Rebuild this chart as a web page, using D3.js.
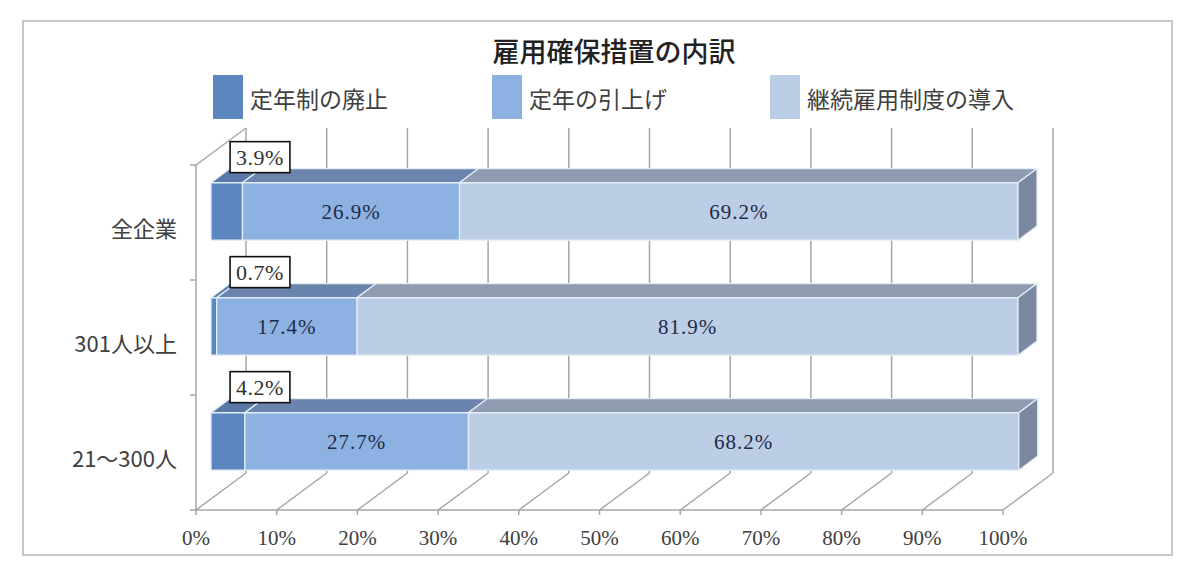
<!DOCTYPE html>
<html>
<head>
<meta charset="utf-8">
<script src="https://cdn.jsdelivr.net/npm/d3@7"></script>
<style>
  body { margin: 0; background: #fff; }
  svg { display: block; }
  .jp { font-family: "Noto Sans CJK JP", sans-serif; fill: #404040; }
  .num { font-family: "Liberation Serif", "DejaVu Serif", serif; }
</style>
</head>
<body>
<svg id="chart" width="1200" height="588"></svg>
<script>
// data
var title = "雇用確保措置の内訳";
var categories = ["全企業", "301人以上", "21～300人"];
var seriesNames = ["定年制の廃止", "定年の引上げ", "継続雇用制度の導入"];
var abolish = [3.9, 0.7, 4.2];
var raise = [26.9, 17.4, 27.7];
var continued = [69.2, 81.9, 68.2];
var ticks = [0, 10, 20, 30, 40, 50, 60, 70, 80, 90, 100];

var front = ["#5b86c0", "#8db2e2", "#bccde6"];
var top_ = ["#5a78a8", "#6a84ad", "#8e9bb1"];
var sideColor = "#7a889f";

var svg = d3.select("#chart");

// outer frame
svg.append("rect")
  .attr("x", 23).attr("y", 21).attr("width", 1149).attr("height", 534)
  .attr("fill", "#fff").attr("stroke", "#c8c8c8").attr("stroke-width", 2);

var x = d3.scaleLinear().domain([0, 100]).range([196, 1003]);
var y = d3.scaleBand().domain(categories).range([165, 510])
  .paddingInner(0.5).paddingOuter(0.25);
var yOuter = d3.scaleBand().domain(categories).range([165, 510]);

// depth of the box and of the bars
var DX = 50, DY = -37;
var z0 = 0.3, z1 = 0.68;
var yTop = 165, yBot = 510;
var grid = "#a6a6a6";

var walls = svg.append("g").attr("stroke", grid).attr("stroke-width", 1.5).attr("fill", "none");

// back wall gridlines
walls.selectAll("line.back").data(ticks).enter().append("line")
  .attr("x1", function(d) { return x(d) + DX; })
  .attr("x2", function(d) { return x(d) + DX; })
  .attr("y1", yTop + DY).attr("y2", yBot + DY);

// left wall
walls.append("line").attr("x1", x(0)).attr("x2", x(0)).attr("y1", yTop).attr("y2", yBot);
walls.append("line").attr("x1", x(0)).attr("x2", x(0) + DX).attr("y1", yTop).attr("y2", yTop + DY);
var catTicks = [yTop].concat(categories.map(function(c) { return yOuter(c) + yOuter.bandwidth(); }));
walls.selectAll("line.ctick").data(catTicks).enter().append("line")
  .attr("x1", x(0) - 6).attr("x2", x(0))
  .attr("y1", function(d) { return d; }).attr("y2", function(d) { return d; });

// floor
walls.append("line").attr("x1", x(0)).attr("x2", x(100)).attr("y1", yBot).attr("y2", yBot);
walls.selectAll("line.floor").data(ticks).enter().append("line")
  .attr("x1", function(d) { return x(d); })
  .attr("x2", function(d) { return x(d) + DX; })
  .attr("y1", yBot).attr("y2", yBot + DY);
walls.selectAll("line.xtick").data(ticks).enter().append("line")
  .attr("x1", function(d) { return x(d); })
  .attr("x2", function(d) { return x(d); })
  .attr("y1", yBot).attr("y2", yBot + 5);

// x tick labels
svg.selectAll("text.xlab").data(ticks).enter().append("text")
  .attr("class", "num")
  .attr("x", function(d) { return x(d); })
  .attr("y", 545)
  .attr("text-anchor", "middle")
  .attr("font-size", 21)
  .attr("fill", "#404040")
  .text(function(d) { return d + "%"; });

// category labels
svg.selectAll("text.cat").data(categories).enter().append("text")
  .attr("class", "jp")
  .attr("x", 177)
  .attr("y", function(d) { return yOuter(d) + yOuter.bandwidth() / 2 + 4; })
  .attr("text-anchor", "end")
  .attr("dominant-baseline", "central")
  .attr("font-size", 22)
  .text(function(d) { return d; });

// bars
var bx = DX * z0, by = DY * z0;
var dxb = DX * (z1 - z0), dyb = DY * (z1 - z0);
var bars = categories.map(function(c, i) {
  var vals = [abolish[i], raise[i], continued[i]];
  var acc = 0;
  return vals.map(function(v, k) {
    var s = { cat: c, k: k, v: v, a: acc, b: acc + v };
    acc += v;
    return s;
  });
});

var barG = svg.append("g");
bars.forEach(function(segs, i) {
  var g = barG.append("g");
  var t = y(categories[i]) + by, h = y.bandwidth();
  segs.forEach(function(s) {
    var x0 = x(s.a) + bx, x1 = x(s.b) + bx;
    g.append("rect")
      .attr("x", x0).attr("y", t).attr("width", x1 - x0).attr("height", h)
      .attr("fill", front[s.k]).attr("stroke", "#e4edf8").attr("stroke-width", 1.3);
    g.append("path")
      .attr("d", "M" + [[x0, t], [x1, t], [x1 + dxb, t + dyb], [x0 + dxb, t + dyb]].join("L") + "Z")
      .attr("fill", top_[s.k]).attr("stroke", "#e4edf8").attr("stroke-width", 1.3);
    if (s.k === 2) {
      g.append("path")
        .attr("d", "M" + [[x1, t], [x1 + dxb, t + dyb], [x1 + dxb, t + dyb + h], [x1, t + h]].join("L") + "Z")
        .attr("fill", sideColor).attr("stroke", "#e4edf8").attr("stroke-width", 1.3);
    }
    if (s.k > 0) {
      g.append("text")
        .attr("class", "num")
        .attr("x", (x0 + x1) / 2)
        .attr("y", t + h / 2 + 1)
        .attr("text-anchor", "middle")
        .attr("dominant-baseline", "central")
        .attr("font-size", 21)
        .attr("letter-spacing", 1)
        .attr("fill", "#1f2b48")
        .text(s.v.toFixed(1) + "%");
    }
  });

  // boxed label for the first series
  var lab = g.append("g")
    .attr("transform", "translate(" + (x(0) + bx + 49) + "," + (t - 25) + ")");
  var txt = lab.append("text")
    .attr("class", "num")
    .attr("text-anchor", "middle")
    .attr("dominant-baseline", "central")
    .attr("font-size", 22)
    .attr("letter-spacing", 0.5)
    .attr("fill", "#333")
    .text(segs[0].v.toFixed(1) + "%");
  var w = txt.node().getComputedTextLength() + 12;
  lab.insert("rect", "text")
    .attr("x", -w / 2).attr("y", -16).attr("width", w).attr("height", 31)
    .attr("fill", "#fff").attr("stroke", "#111").attr("stroke-width", 1.6);
});

// title
svg.append("text")
  .attr("class", "jp")
  .attr("x", 614).attr("y", 50)
  .attr("text-anchor", "middle")
  .attr("dominant-baseline", "central")
  .attr("font-size", 27)
  .attr("font-weight", 500)
  .style("fill", "#222")
  .text(title);

// legend
var legendX = [213, 492, 770];
var leg = svg.selectAll("g.legend").data(seriesNames).enter().append("g")
  .attr("transform", function(d, i) { return "translate(" + legendX[i] + ",75)"; });
leg.append("rect")
  .attr("width", 30).attr("height", 44)
  .attr("fill", function(d, i) { return front[i]; });
leg.append("text")
  .attr("class", "jp")
  .attr("x", 37).attr("y", 23)
  .attr("dominant-baseline", "central")
  .attr("font-size", 23)
  .text(function(d) { return d; });
</script>
</body>
</html>
